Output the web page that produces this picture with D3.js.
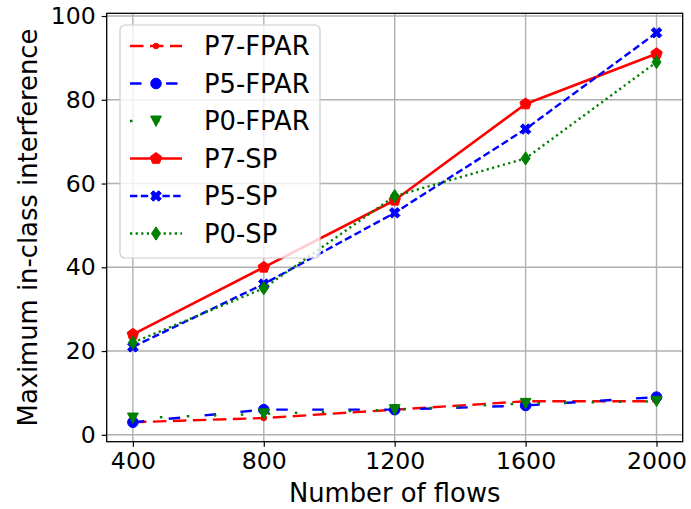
<!DOCTYPE html>
<html><head><meta charset="utf-8">
<script src="https://cdn.jsdelivr.net/npm/d3@7"></script>
<style>body{margin:0;background:#fff} svg{display:block} text{font-family:"DejaVu Sans",sans-serif;fill:#000}</style>
</head><body><svg id="c" width="691" height="509"></svg>
<script>
// ---- data ----
const flows = [400, 800, 1200, 1600, 2000];
const xTickValues = [400, 800, 1200, 1600, 2000];
const yTickValues = [0, 20, 40, 60, 80, 100];
const p7FPAR = [3, 4, 6, 8, 8];
const p5FPAR = [3, 6, 6, 7, 9];
const p0FPAR = [4, 5, 6, 7.5, 8];
const p7SP = [24, 40, 56, 79, 91];
const p5SP = [21, 36, 53, 73, 96];
const p0SP = [22, 35, 57, 66, 89];
const seriesNames = ["P7-FPAR", "P5-FPAR", "P0-FPAR", "P7-SP", "P5-SP", "P0-SP"];
const seriesValues = [p7FPAR, p5FPAR, p0FPAR, p7SP, p5SP, p0SP];
const xLabel = "Number of flows";
const yLabel = "Maximum in-class interference";

// ---- styles ----
const styles = [
  {color: "red",   width: 2.4, dash: "13.5,6.5", marker: "dot"},
  {color: "blue",  width: 2.4, dash: "11.5,24.5", marker: "circle"},
  {color: "green", width: 2.4, dash: "2.5,24.5", marker: "tri"},
  {color: "red",   width: 2.6, dash: null, marker: "pent"},
  {color: "blue",  width: 2.4, dash: "7.4,3.4", marker: "x"},
  {color: "green", width: 2.4, dash: "2.2,3.4", marker: "dia"}
];

const L = 106.7, R = 682.7, T = 13.3, B = 441.7;
const svg = d3.select("#c");
const x = d3.scaleLinear().domain([320, 2080]).range([L, R]);
const y = d3.scaleLinear().domain([-1.65, 100.65]).range([B, T]);

function markerPath(type) {
  const p = d3.path();
  if (type === "dot") { p.arc(0, 0, 2.8, 0, 2 * Math.PI); }
  else if (type === "circle") { p.arc(0, 0, 5.3, 0, 2 * Math.PI); }
  else if (type === "tri") { p.moveTo(-5.4, -5); p.lineTo(5.4, -5); p.lineTo(0, 5.4); p.closePath(); }
  else if (type === "pent") {
    const r = 6;
    for (let i = 0; i < 5; i++) {
      const a = -Math.PI / 2 + i * 2 * Math.PI / 5;
      if (i === 0) p.moveTo(r * Math.cos(a), r * Math.sin(a)); else p.lineTo(r * Math.cos(a), r * Math.sin(a));
    }
    p.closePath();
  }
  else if (type === "x") {
    const s = 11.2;
    const pts = [[1/3,0],[2/3,0],[2/3,1/3],[1,1/3],[1,2/3],[2/3,2/3],[2/3,1],[1/3,1],[1/3,2/3],[0,2/3],[0,1/3],[1/3,1/3]];
    const c = Math.SQRT1_2;
    pts.forEach((q, i) => {
      const u = (q[0] - 0.5) * s, v = (q[1] - 0.5) * s;
      const X = c * (u - v), Y = c * (u + v);
      if (i === 0) p.moveTo(X, Y); else p.lineTo(X, Y);
    });
    p.closePath();
  }
  else if (type === "dia") { p.moveTo(0, -6.6); p.lineTo(4.5, 0); p.lineTo(0, 6.6); p.lineTo(-4.5, 0); p.closePath(); }
  return p.toString();
}

// grid
const grid = svg.append("g");
grid.selectAll("line.gx").data(xTickValues).enter().append("line")
  .attr("x1", d => x(d)).attr("x2", d => x(d)).attr("y1", T).attr("y2", B)
  .attr("stroke", "#b0b0b0").attr("stroke-width", 1.4);
grid.selectAll("line.gy").data(yTickValues).enter().append("line")
  .attr("y1", d => y(d)).attr("y2", d => y(d)).attr("x1", L).attr("x2", R)
  .attr("stroke", "#b0b0b0").attr("stroke-width", 1.4);

// series
const line = d3.line().x((d, i) => x(flows[i])).y(d => y(d));
seriesValues.forEach((vals, k) => {
  const st = styles[k];
  const g = svg.append("g");
  g.append("path").attr("d", line(vals)).attr("fill", "none")
    .attr("stroke", st.color).attr("stroke-width", st.width)
    .attr("stroke-dasharray", st.dash).attr("stroke-linejoin", "round");
  g.selectAll("path.m").data(vals).enter().append("path")
    .attr("d", markerPath(st.marker))
    .attr("transform", (d, i) => `translate(${x(flows[i])},${y(d)})`)
    .attr("fill", st.color).attr("stroke", st.color).attr("stroke-width", 1);
});

// axes
const fs = 23.6;
const xa = svg.append("g").attr("transform", `translate(0,${B})`)
  .call(d3.axisBottom(x).tickValues(xTickValues).tickSize(5).tickPadding(6).tickFormat(d3.format("d")));
const ya = svg.append("g").attr("transform", `translate(${L},0)`)
  .call(d3.axisLeft(y).tickValues(yTickValues).tickSize(5).tickPadding(6).tickFormat(d3.format("d")));
[xa, ya].forEach(a => {
  a.select(".domain").remove();
  a.selectAll(".tick line").attr("stroke", "#000").attr("stroke-width", 1.2);
  a.selectAll(".tick text").attr("font-size", fs).attr("font-family", "DejaVu Sans").attr("fill", "#000");
});
svg.append("rect").attr("x", L).attr("y", T).attr("width", R - L).attr("height", B - T)
  .attr("fill", "none").attr("stroke", "#000").attr("stroke-width", 1.3);

svg.append("text").attr("x", (L + R) / 2).attr("y", 502).attr("text-anchor", "middle")
  .attr("font-size", 25.8).text(xLabel);
svg.append("text").attr("transform", `translate(37,${(T + B) / 2}) rotate(-90)`)
  .attr("text-anchor", "middle").attr("font-size", 25.8).text(yLabel);

// legend
const lg = svg.append("g");
lg.append("rect").attr("x", 120).attr("y", 25).attr("width", 200).attr("height", 233)
  .attr("rx", 5).attr("fill", "#fff").attr("fill-opacity", 0.8)
  .attr("stroke", "#cccccc").attr("stroke-width", 1.2);
seriesNames.forEach((name, k) => {
  const st = styles[k];
  const yy = 46 + k * 37.5;
  lg.append("line").attr("x1", 130).attr("x2", 182).attr("y1", yy).attr("y2", yy)
    .attr("stroke", st.color).attr("stroke-width", st.width).attr("stroke-dasharray", st.dash);
  lg.append("path").attr("d", markerPath(st.marker)).attr("transform", `translate(156,${yy})`)
    .attr("fill", st.color).attr("stroke", st.color).attr("stroke-width", 1);
  lg.append("text").attr("x", 204).attr("y", yy + 9.3).attr("font-size", 25.8).text(name);
});
</script></body></html>
